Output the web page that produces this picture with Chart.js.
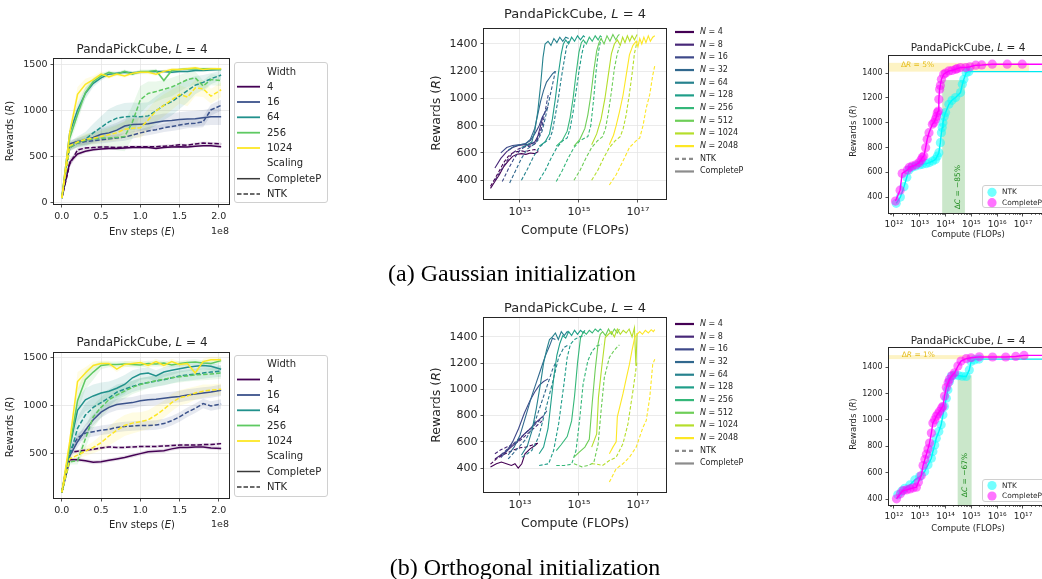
<!DOCTYPE html>
<html>
<head>
<meta charset="utf-8">
<title>PandaPickCube width scaling</title>
<script src="https://cdn.jsdelivr.net/npm/chart.js@4.4.1/dist/chart.umd.min.js"></script>
<style>
  html, body { margin: 0; padding: 0; background: #fff; overflow: hidden; }
  #fig { position: relative; width: 1042px; height: 579px; overflow: hidden; background: #fff;
         font-family: "DejaVu Sans", sans-serif; color: #262626; }
  #fig canvas { position: absolute; }
  .t { position: absolute; white-space: nowrap; line-height: 1; }
  .legbox { position: absolute; border: 1px solid #d0d0d0; border-radius: 3px; background: rgba(255,255,255,0.85); box-sizing: border-box; }
  #overlay { position: absolute; left: 0; top: 0; pointer-events: none; }
</style>
</head>
<body>
<div id="fig"></div>
<script>
// ---------- reward vs environment steps (x in units of 1e8 steps) ----------
const STEPS = [0, 0.1, 0.2, 0.3, 0.4, 0.5, 0.6, 0.7, 0.8, 0.9, 1.0, 1.1, 1.2, 1.3, 1.4, 1.5, 1.6, 1.7, 1.8, 1.9, 2.03];
const WIDTHS = [4, 16, 64, 256, 1024];
const WIDTH_COLORS = ['#440154', '#3b528b', '#21918c', '#5ec962', '#fde725'];
const ENV_TICKS = [0, 0.5, 1.0, 1.5, 2.0];

// Gaussian initialization: mean reward and spread per width
const gaussCP4    = [50, 440, 530, 560, 575, 585, 590, 590, 595, 600, 600, 600, 590, 600, 605, 610, 605, 615, 620, 620, 610];
const gaussNTK4   = [50, 420, 575, 595, 600, 605, 605, 600, 605, 610, 610, 610, 610, 615, 620, 630, 625, 640, 650, 645, 640];
const gaussCP16   = [50, 640, 665, 680, 710, 745, 760, 790, 835, 850, 855, 860, 875, 890, 895, 905, 910, 915, 925, 935, 935];
const gaussNTK16  = [50, 600, 650, 665, 675, 685, 695, 705, 715, 735, 760, 780, 795, 815, 830, 845, 860, 865, 880, 1010, 1060];
const gaussCP64   = [50, 760, 1010, 1190, 1300, 1360, 1400, 1410, 1420, 1415, 1420, 1425, 1430, 1430, 1420, 1430, 1430, 1440, 1440, 1445, 1450];
const gaussNTK64  = [50, 620, 660, 690, 760, 820, 880, 920, 935, 940, 935, 945, 1000, 1060, 1100, 1160, 1220, 1280, 1310, 1350, 1390];
const gaussCP256  = [50, 700, 960, 1200, 1320, 1380, 1420, 1400, 1430, 1400, 1430, 1430, 1440, 1330, 1440, 1450, 1460, 1455, 1460, 1460, 1450];
const gaussNTK256 = [50, 600, 650, 680, 695, 700, 705, 710, 720, 880, 1120, 1190, 1210, 1235, 1260, 1300, 1340, 1360, 1270, 1340, 1330];
const gaussCP1024 = [50, 760, 1180, 1290, 1340, 1400, 1370, 1400, 1380, 1410, 1420, 1420, 1400, 1430, 1450, 1450, 1460, 1470, 1450, 1460, 1460];
const gaussNTK1024 = [50, 620, 660, 690, 700, 720, 740, 760, 800, 810, 815, 900, 1000, 1060, 1120, 1180, 1150, 1250, 1240, 1160, 1230];

const gaussCP4sd    = [0, 40, 25, 20, 15, 15, 15, 15, 15, 15, 15, 15, 15, 15, 15, 15, 15, 15, 15, 15, 15];
const gaussNTK4sd   = [0, 40, 20, 15, 15, 15, 15, 15, 15, 15, 15, 15, 15, 15, 15, 15, 15, 15, 15, 15, 15];
const gaussCP16sd   = [0, 40, 40, 50, 60, 70, 80, 80, 80, 80, 80, 80, 80, 80, 80, 80, 85, 85, 85, 90, 90];
const gaussNTK16sd  = [0, 40, 40, 40, 40, 40, 40, 40, 40, 40, 40, 45, 45, 45, 50, 50, 50, 50, 60, 60, 60];
const gaussCP64sd   = [0, 60, 80, 60, 40, 30, 20, 20, 20, 20, 15, 15, 15, 15, 15, 15, 15, 15, 15, 15, 15];
const gaussNTK64sd  = [0, 40, 60, 80, 100, 120, 140, 140, 150, 150, 150, 150, 160, 160, 150, 140, 130, 100, 80, 60, 50];
const gaussCP256sd  = [0, 60, 80, 60, 40, 30, 20, 20, 20, 20, 20, 20, 20, 20, 20, 15, 15, 15, 15, 15, 15];
const gaussNTK256sd = [0, 40, 50, 60, 80, 100, 120, 140, 160, 180, 150, 130, 110, 100, 100, 90, 80, 70, 60, 60, 60];
const gaussCP1024sd = [0, 60, 80, 60, 40, 30, 20, 20, 20, 20, 20, 20, 20, 20, 20, 15, 15, 15, 15, 15, 15];
const gaussNTK1024sd = [0, 40, 50, 60, 60, 60, 70, 80, 90, 100, 110, 120, 120, 120, 110, 100, 100, 90, 90, 80, 80];

// Orthogonal initialization: mean reward and spread per width
const orthCP4    = [90, 430, 430, 420, 405, 410, 425, 440, 455, 475, 495, 515, 520, 525, 545, 560, 560, 565, 565, 555, 550];
const orthNTK4   = [90, 510, 520, 530, 540, 555, 565, 560, 560, 565, 570, 570, 570, 575, 580, 585, 585, 585, 590, 590, 600];
const orthCP16   = [90, 470, 620, 740, 850, 930, 980, 1010, 1020, 1030, 1050, 1060, 1065, 1075, 1085, 1095, 1110, 1120, 1130, 1140, 1160];
const orthNTK16  = [90, 520, 660, 710, 725, 740, 750, 770, 780, 785, 790, 790, 795, 810, 840, 880, 930, 970, 1020, 995, 1015];
const orthCP64   = [90, 560, 950, 1060, 1100, 1130, 1150, 1180, 1220, 1290, 1330, 1340, 1310, 1350, 1370, 1385, 1400, 1410, 1420, 1410, 1380];
const orthNTK64  = [90, 470, 760, 900, 980, 1030, 1080, 1140, 1170, 1200, 1225, 1240, 1255, 1270, 1290, 1310, 1320, 1330, 1340, 1350, 1360];
const orthCP256  = [90, 560, 1050, 1270, 1350, 1420, 1430, 1430, 1435, 1430, 1425, 1440, 1435, 1445, 1425, 1440, 1450, 1455, 1445, 1440, 1470];
const orthNTK256 = [90, 410, 420, 650, 880, 980, 1060, 1110, 1150, 1190, 1220, 1240, 1260, 1275, 1290, 1300, 1310, 1320, 1325, 1330, 1340];
const orthCP1024 = [90, 620, 1250, 1340, 1420, 1440, 1440, 1380, 1430, 1440, 1450, 1420, 1460, 1420, 1460, 1430, 1440, 1340, 1460, 1480, 1480];
const orthNTK1024 = [90, 440, 480, 520, 560, 610, 680, 740, 790, 815, 830, 850, 900, 960, 1030, 1080, 1100, 1130, 1150, 1160, 1170];

const orthCP4sd    = [0, 20, 20, 20, 20, 20, 20, 20, 20, 20, 20, 20, 20, 20, 20, 20, 20, 20, 20, 20, 20];
const orthNTK4sd   = [0, 15, 15, 15, 15, 15, 15, 15, 15, 15, 15, 15, 15, 15, 15, 15, 15, 15, 15, 15, 15];
const orthCP16sd   = [0, 40, 60, 60, 60, 60, 60, 60, 60, 60, 60, 60, 60, 60, 60, 60, 60, 60, 60, 60, 60];
const orthNTK16sd  = [0, 40, 50, 50, 50, 50, 50, 50, 50, 50, 50, 50, 50, 50, 50, 50, 50, 50, 50, 50, 50];
const orthCP64sd   = [0, 60, 120, 120, 120, 110, 100, 100, 100, 80, 60, 60, 60, 50, 50, 40, 40, 40, 40, 40, 40];
const orthNTK64sd  = [0, 40, 120, 120, 110, 100, 90, 80, 70, 60, 60, 60, 60, 60, 60, 60, 60, 60, 60, 60, 60];
const orthCP256sd  = [0, 60, 120, 100, 80, 40, 30, 30, 30, 30, 30, 30, 30, 30, 30, 30, 30, 30, 30, 30, 30];
const orthNTK256sd = [0, 30, 40, 100, 120, 110, 100, 90, 80, 70, 70, 60, 60, 60, 60, 60, 60, 60, 60, 60, 60];
const orthCP1024sd = [0, 60, 100, 60, 40, 30, 30, 30, 30, 30, 30, 30, 30, 30, 30, 30, 30, 30, 30, 30, 30];
const orthNTK1024sd = [0, 30, 40, 50, 60, 80, 100, 110, 110, 110, 100, 100, 100, 90, 90, 80, 80, 70, 70, 60, 60];

// ---------- reward vs training compute: [log10 FLOPs, reward] ----------
const N_LIST = [4, 8, 16, 32, 64, 128, 256, 512, 1024, 2048];
const N_COLORS = ['#440154', '#482878', '#3e4989', '#31688e', '#26828e', '#1f9e89', '#35b779', '#6ece58', '#b5de2b', '#fde725'];
const COMPUTE_TICKS_MID = [1e13, 1e15, 1e17];
const COMPUTE_TICKS_RIGHT = [1e12, 1e13, 1e14, 1e15, 1e16, 1e17];
const REWARD_TICKS_STEPS_A = [0, 500, 1000, 1500];
const REWARD_TICKS_STEPS_B = [500, 1000, 1500];
const REWARD_TICKS_FLOPS = [400, 600, 800, 1000, 1200, 1400];

const gfCP4 = [[12.0,340],[12.15,390],[12.3,440],[12.45,500],[12.6,540],[12.75,575],[12.9,590],[13.05,595],[13.2,590],[13.35,600],[13.5,595],[13.62,610]];
const gfNTK4 = [[12.0,355],[12.15,410],[12.3,470],[12.45,530],[12.6,575],[12.75,600],[12.9,610],[13.05,615],[13.2,610],[13.35,620],[13.5,625],[13.62,615]];
const gfCP8 = [[12.15,490],[12.35,560],[12.55,610],[12.75,640],[12.95,655],[13.15,660],[13.35,665],[13.5,680],[13.6,720],[13.7,800],[13.78,870]];
const gfNTK8 = [[12.15,400],[12.35,470],[12.55,540],[12.75,600],[12.95,630],[13.15,645],[13.35,650],[13.5,665],[13.6,700],[13.7,760],[13.78,820]];
const gfCP16 = [[12.35,600],[12.55,640],[12.75,655],[12.95,660],[13.15,665],[13.35,690],[13.5,740],[13.65,800],[13.75,860],[13.85,900],[13.95,940]];
const gfNTK16 = [[12.4,390],[12.6,480],[12.8,560],[13.0,620],[13.2,650],[13.4,665],[13.55,690],[13.7,760],[13.8,850],[13.9,960],[13.97,1040]];
const gfCP32 = [[12.6,620],[12.8,650],[13.0,660],[13.2,670],[13.35,700],[13.5,780],[13.6,880],[13.7,980],[13.8,1060],[13.9,1120],[14.0,1150],[14.1,1180],[14.2,1200]];
const gfNTK32 = [[12.65,380],[12.85,470],[13.05,560],[13.25,630],[13.45,660],[13.6,690],[13.75,760],[13.85,850],[13.95,950],[14.05,1050],[14.15,1150],[14.2,1200]];
const gfCP64 = [[13.05,640],[13.25,660],[13.4,680],[13.5,760],[13.6,900],[13.7,1100],[13.78,1300],[13.85,1400],[13.95,1420],[14.05,1390],[14.15,1440],[14.25,1410],[14.35,1450],[14.45,1420],[14.55,1450],[14.65,1440]];
const gfNTK64 = [[13.05,400],[13.25,480],[13.45,570],[13.65,640],[13.85,680],[14.0,700],[14.1,760],[14.2,880],[14.3,1000],[14.4,1150],[14.5,1280],[14.58,1380],[14.65,1420]];
const gfCP128 = [[13.65,650],[13.85,680],[14.0,740],[14.1,850],[14.2,1000],[14.3,1180],[14.4,1330],[14.47,1400],[14.55,1430],[14.65,1400],[14.75,1450],[14.85,1420],[14.95,1460],[15.05,1430],[15.15,1460],[15.2,1450]];
const gfNTK128 = [[13.65,400],[13.85,470],[14.05,560],[14.25,640],[14.45,690],[14.6,710],[14.7,780],[14.8,900],[14.9,1050],[15.0,1200],[15.1,1330],[15.2,1420]];
const gfCP256 = [[14.23,650],[14.43,690],[14.6,760],[14.7,860],[14.8,1000],[14.9,1180],[15.0,1340],[15.08,1410],[15.15,1430],[15.25,1400],[15.35,1450],[15.45,1420],[15.55,1460],[15.65,1430],[15.72,1460],[15.77,1450]];
const gfNTK256 = [[14.23,390],[14.43,470],[14.63,560],[14.83,640],[15.03,690],[15.2,710],[15.3,720],[15.4,800],[15.5,1000],[15.58,1200],[15.65,1330],[15.72,1410],[15.77,1440]];
const gfCP512 = [[14.83,650],[15.03,700],[15.2,780],[15.3,880],[15.4,1020],[15.5,1200],[15.6,1350],[15.68,1410],[15.75,1440],[15.85,1400],[15.95,1460],[16.05,1420],[16.15,1470],[16.25,1430],[16.32,1460],[16.37,1470]];
const gfNTK512 = [[14.83,400],[15.03,470],[15.23,560],[15.43,640],[15.63,690],[15.8,720],[15.9,780],[16.0,900],[16.1,1050],[16.2,1220],[16.3,1330],[16.37,1380]];
const gfCP1024 = [[15.43,660],[15.6,740],[15.75,850],[15.88,1000],[16.0,1180],[16.1,1330],[16.2,1400],[16.3,1430],[16.4,1390],[16.48,1450],[16.56,1410],[16.64,1460],[16.72,1420],[16.8,1460],[16.88,1430],[16.97,1470]];
const gfNTK1024 = [[15.43,400],[15.63,470],[15.83,560],[16.03,640],[16.23,690],[16.4,720],[16.5,780],[16.6,880],[16.7,1020],[16.8,1180],[16.88,1330],[16.97,1420]];
const gfCP2048 = [[16.03,660],[16.17,730],[16.26,800],[16.37,900],[16.49,1020],[16.6,1170],[16.71,1320],[16.83,1390],[16.94,1420],[17.0,1380],[17.06,1440],[17.13,1400],[17.2,1450],[17.27,1410],[17.35,1460],[17.42,1420],[17.5,1450],[17.57,1460]];
const gfNTK2048 = [[16.03,365],[16.26,440],[16.49,540],[16.71,640],[16.94,690],[17.06,710],[17.17,800],[17.28,930],[17.4,1030],[17.5,1170],[17.57,1240]];

const ofCP4 = [[12.0,408],[12.2,433],[12.37,446],[12.54,433],[12.71,420],[12.83,433],[12.94,400],[13.06,433],[13.17,509],[13.34,547],[13.51,572],[13.6,590]];
const ofNTK4 = [[12.0,430],[12.2,470],[12.4,500],[12.6,520],[12.8,540],[13.0,555],[13.2,560],[13.4,575],[13.6,590]];
const ofCP8 = [[12.15,470],[12.35,500],[12.55,530],[12.75,570],[12.95,610],[13.15,660],[13.35,700],[13.5,740],[13.65,770],[13.75,790]];
const ofNTK8 = [[12.15,510],[12.35,540],[12.55,560],[12.75,580],[12.95,600],[13.15,640],[13.35,680],[13.5,710],[13.65,740],[13.75,760]];
const ofCP16 = [[12.35,480],[12.55,530],[12.75,600],[12.95,700],[13.15,820],[13.35,920],[13.5,980],[13.65,1030],[13.8,1060],[13.95,1080]];
const ofNTK16 = [[12.35,500],[12.55,540],[12.75,580],[12.95,620],[13.15,660],[13.35,700],[13.5,730],[13.65,760],[13.8,800],[13.95,850]];
const ofCP32 = [[12.6,500],[12.8,560],[13.0,650],[13.2,800],[13.4,950],[13.55,1050],[13.7,1150],[13.85,1250],[14.0,1330],[14.1,1390],[14.2,1380]];
const ofNTK32 = [[12.6,470],[12.8,520],[13.0,570],[13.2,620],[13.4,700],[13.55,780],[13.7,880],[13.85,980],[14.0,1080],[14.1,1150],[14.2,1200]];
const ofCP64 = [[13.05,500],[13.25,570],[13.4,680],[13.55,850],[13.7,1050],[13.8,1200],[13.9,1300],[14.0,1380],[14.1,1400],[14.2,1430],[14.3,1380],[14.4,1440],[14.5,1410],[14.6,1440],[14.65,1430]];
const ofNTK64 = [[13.06,483],[13.25,510],[13.4,534],[13.63,635],[13.86,838],[14.09,1040],[14.31,1243],[14.49,1319],[14.65,1340]];
const ofCP128 = [[13.65,509],[13.8,560],[13.95,700],[14.05,900],[14.15,1100],[14.25,1260],[14.35,1350],[14.45,1410],[14.55,1390],[14.65,1440],[14.75,1410],[14.85,1450],[14.95,1420],[15.05,1450],[15.15,1430],[15.2,1450]];
const ofNTK128 = [[13.65,420],[13.97,433],[14.14,534],[14.31,737],[14.49,1040],[14.6,1243],[14.71,1344],[14.85,1380],[15.0,1400],[15.2,1410]];
const ofCP256 = [[14.23,534],[14.4,580],[14.6,640],[14.75,760],[14.85,950],[14.95,1200],[15.05,1390],[15.15,1440],[15.25,1420],[15.35,1450],[15.45,1430],[15.55,1460],[15.65,1440],[15.72,1460],[15.77,1450]];
const ofNTK256 = [[14.23,420],[14.5,420],[14.75,430],[14.9,534],[15.03,787],[15.14,1040],[15.3,1218],[15.45,1294],[15.6,1330],[15.77,1345]];
const ofCP512 = [[14.83,483],[15.0,520],[15.2,560],[15.35,620],[15.45,900],[15.55,1150],[15.65,1350],[15.72,1420],[15.8,1440],[15.9,1410],[16.0,1460],[16.1,1420],[16.2,1460],[16.3,1430],[16.37,1460]];
const ofNTK512 = [[14.83,433],[15.1,410],[15.3,420],[15.5,440],[15.65,585],[15.75,838],[15.86,1091],[16.03,1243],[16.2,1300],[16.37,1340]];
const ofCP1024 = [[15.43,560],[15.6,660],[15.66,939],[15.77,1167],[15.89,1395],[16.0,1420],[16.1,1440],[16.2,1400],[16.3,1460],[16.4,1420],[16.5,1450],[16.6,1430],[16.7,1460],[16.8,1400],[16.88,1470],[16.93,1180],[16.97,1430]];
const ofNTK1024 = [[15.43,433],[15.6,430],[15.8,420],[16.03,458],[16.26,483],[16.49,585],[16.66,737],[16.83,990],[16.97,1218]];
const ofCP2048 = [[16.03,510],[16.15,560],[16.26,600],[16.3,790],[16.49,965],[16.6,1080],[16.71,1190],[16.8,1300],[16.89,1395],[16.97,1420],[17.06,1440],[17.15,1420],[17.25,1450],[17.35,1430],[17.45,1455],[17.52,1440],[17.57,1455]];
const ofNTK2048 = [[16.03,294],[16.26,395],[16.49,433],[16.71,483],[16.94,560],[17.17,711],[17.28,762],[17.4,939],[17.5,1192],[17.57,1230]];

// ---------- compute-optimal frontier: [log10 FLOPs, reward] ----------
const gaussFrontNTK = [[12.09,350],[12.25,400],[12.39,484],[12.5,560],[12.58,618],[12.7,640],[12.84,650],[13.0,660],[13.1,664],[13.25,670],[13.36,677],[13.5,690],[13.61,704],[13.68,730],[13.74,758],[13.8,839],[13.84,919],[13.87,960],[13.9,1000],[13.95,1050],[14.0,1081],[14.13,1148],[14.25,1180],[14.39,1202],[14.58,1242],[14.65,1309],[14.71,1349],[14.8,1403],[14.9,1411]];
const gaussFrontCP = [[12.06,368],[12.24,456],[12.32,591],[12.52,618],[12.6,640],[12.71,650],[12.85,660],[12.97,677],[13.05,700],[13.1,720],[13.16,731],[13.23,798],[13.29,866],[13.36,919],[13.49,987],[13.55,1000],[13.61,1027],[13.65,1050],[13.68,1080],[13.72,1094],[13.74,1188],[13.77,1269],[13.8,1300],[13.84,1349],[13.93,1390],[14.0,1400],[14.13,1417],[14.25,1420],[14.39,1430],[14.45,1435],[14.58,1444],[14.78,1444],[14.95,1450],[15.17,1463],[15.4,1465],[15.81,1471],[16.39,1471],[16.97,1471]];
const orthFrontNTK = [[12.15,432],[12.3,460],[12.42,482],[12.62,507],[12.81,545],[13.0,570],[13.19,608],[13.32,659],[13.45,709],[13.51,760],[13.58,810],[13.64,861],[13.74,911],[13.83,962],[13.9,1038],[13.96,1101],[14.03,1164],[14.09,1227],[14.15,1290],[14.22,1328],[14.35,1340],[14.5,1335],[14.65,1330],[14.8,1328],[14.92,1378],[14.99,1442],[15.12,1454],[15.3,1460]];
const orthFrontCP = [[12.1,402],[12.25,440],[12.36,465],[12.5,470],[12.62,477],[12.75,485],[12.87,490],[12.95,530],[13.06,578],[13.13,654],[13.2,700],[13.26,740],[13.32,780],[13.38,824],[13.45,900],[13.51,976],[13.58,1000],[13.64,1027],[13.7,1045],[13.77,1065],[13.85,1090],[13.9,1103],[13.96,1180],[14.03,1244],[14.1,1280],[14.15,1306],[14.25,1335],[14.35,1356],[14.48,1407],[14.6,1445],[14.8,1463],[14.99,1470],[15.31,1477],[15.82,1476],[16.33,1476],[16.72,1480],[17.04,1488]];

// reward gap band [low, high] and its right end (log10 FLOPs); compute gap band [from, to] and its top
const gaussRewardGap = [1411, 1482], gaussRewardGapEnd = 17.23, gaussComputeGap = [13.87, 14.75], gaussComputeGapTop = 1343;
const orthRewardGap = [1460, 1490], orthRewardGapEnd = 17.2, orthComputeGap = [14.47, 15.01], orthComputeGapTop = 1337;

// ---------- drawing ----------
const FONT = '"DejaVu Sans", sans-serif';
const INK = '#262626';
const GRID = '#e6e6e6';
const fig = document.getElementById('fig');

function hexA(hex, a) {
  const n = parseInt(hex.slice(1), 16);
  return `rgba(${n >> 16},${(n >> 8) & 255},${n & 255},${a})`;
}
const SUP = { '0': '⁰', '1': '¹', '2': '²', '3': '³', '4': '⁴', '5': '⁵', '6': '⁶', '7': '⁷', '8': '⁸', '9': '⁹' };
const pow10Label = v => '10' + String(Math.round(Math.log10(v))).split('').map(d => SUP[d]).join('');

function makeCanvas(r, p) {
  const c = document.createElement('canvas');
  const w = r.r - r.l + p.l + p.r, h = r.b - r.t + p.t + p.b;
  c.width = w; c.height = h;
  c.style.left = (r.l - p.l) + 'px'; c.style.top = (r.t - p.t) + 'px';
  c.style.width = w + 'px'; c.style.height = h + 'px';
  fig.appendChild(c);
  return c;
}

function axis(o) {
  return {
    type: o.type, min: o.min, max: o.max, bounds: 'data',
    afterBuildTicks: s => { s.ticks = o.ticks.map(v => ({ value: v })); },
    afterFit: s => { if (o.w !== undefined) s.width = o.w; if (o.h !== undefined) s.height = o.h; },
    ticks: { callback: o.fmt, font: { family: FONT, size: o.size }, color: INK, padding: 3,
             maxRotation: 0, minRotation: 0, autoSkip: false, major: { enabled: false } },
    grid: { display: true, color: o.grid || 'rgba(0,0,0,0)', lineWidth: 0.8, drawTicks: true,
            tickLength: 3.5, tickColor: INK, tickWidth: 0.8 },
    border: { display: false }
  };
}

function baseOptions(xAx, yAx, pad, extra) {
  return {
    responsive: false, animation: false, events: [],
    layout: { padding: { left: 0, top: pad.t, right: pad.r, bottom: 0 } },
    scales: { x: xAx, y: yAx },
    plugins: Object.assign({ legend: { display: false }, tooltip: { enabled: false }, title: { display: false } }, extra || {}),
    elements: { line: { tension: 0 }, point: { radius: 0 } }
  };
}

// frame around the plotting area
const spinePlugin = {
  id: 'spines',
  afterDatasetsDraw(chart) {
    const a = chart.chartArea, ctx = chart.ctx;
    ctx.save();
    ctx.strokeStyle = INK; ctx.lineWidth = 1;
    ctx.strokeRect(a.left - 0.5, a.top - 0.5, a.right - a.left + 1, a.bottom - a.top + 1);
    ctx.restore();
  }
};

// small ticks between decades on a log x axis
const minorTickPlugin = {
  id: 'minorTicks',
  afterDraw(chart) {
    const s = chart.scales.x, ctx = chart.ctx, b = chart.chartArea.bottom;
    ctx.save(); ctx.strokeStyle = INK; ctx.lineWidth = 0.6;
    for (let e = 11; e <= 17; e++) {
      for (let m = 2; m <= 9; m++) {
        const v = m * Math.pow(10, e);
        if (v < s.min || v > s.max) continue;
        const px = Math.round(s.getPixelForValue(v)) + 0.5;
        ctx.beginPath(); ctx.moveTo(px, b); ctx.lineTo(px, b + 2); ctx.stroke();
      }
    }
    ctx.restore();
  }
};

function richText(ctx, segs, size, cx, cy, color, rot, align) {
  ctx.save(); ctx.translate(cx, cy); if (rot) ctx.rotate(-Math.PI / 2);
  ctx.fillStyle = color; ctx.textBaseline = 'middle'; ctx.textAlign = 'left';
  const fontFor = s => (s.it ? 'italic ' : '') + size + 'px ' + FONT;
  let total = 0;
  segs.forEach(s => { ctx.font = fontFor(s); total += ctx.measureText(s.t).width; });
  let xx = align === 'left' ? 0 : -total / 2;
  segs.forEach(s => { ctx.font = fontFor(s); ctx.fillText(s.t, xx, 0); xx += ctx.measureText(s.t).width; });
  ctx.restore();
}

// shaded reward-gap and compute-gap bands with their labels
const gapPlugin = {
  id: 'gaps',
  beforeDatasetsDraw(chart, args, o) {
    const { ctx, chartArea: a } = chart, x = chart.scales.x, y = chart.scales.y;
    ctx.save();
    const xr = x.getPixelForValue(Math.pow(10, o.rEnd));
    const yHi = y.getPixelForValue(o.rBand[1]), yLo = y.getPixelForValue(o.rBand[0]);
    ctx.fillStyle = 'rgba(250,215,60,0.3)';
    ctx.fillRect(a.left, yHi, xr - a.left, yLo - yHi);
    const x0 = x.getPixelForValue(Math.pow(10, o.cBand[0])), x1 = x.getPixelForValue(Math.pow(10, o.cBand[1]));
    const yc = y.getPixelForValue(o.cTop);
    ctx.fillStyle = 'rgba(44,160,44,0.25)';
    ctx.fillRect(x0, yc, x1 - x0, a.bottom - yc);
    ctx.restore();
    richText(ctx, [{ t: 'Δ' }, { t: 'R', it: true }, { t: ' = ' + o.rLabel }], 7.5,
      x.getPixelForValue(Math.pow(10, o.rText[0])), y.getPixelForValue(o.rText[1]), 'rgba(228,186,20,0.95)', false, 'left');
    richText(ctx, [{ t: 'Δ' }, { t: 'C', it: true }, { t: ' = ' + o.cLabel }], 7.5,
      x.getPixelForValue(Math.pow(10, o.cText[0])), y.getPixelForValue(o.cText[1]), '#1e8c1e', true, 'center');
  }
};

function stepsPanel(rect, yRange, yTicks, cp, ntk, cpSd, ntkSd) {
  const pad = { l: 45, t: 12, r: 12, b: 24 };
  const ds = [];
  WIDTHS.forEach((w, i) => {
    const col = WIDTH_COLORS[i];
    [[cp[i], cpSd[i], []], [ntk[i], ntkSd[i], [4.5, 2]]].forEach(([vals, sd, dash]) => {
      ds.push({ data: STEPS.map((x, k) => ({ x, y: vals[k] - sd[k] })), borderColor: 'rgba(0,0,0,0)', borderWidth: 0, pointRadius: 0, fill: false, order: 50 });
      ds.push({ data: STEPS.map((x, k) => ({ x, y: vals[k] + sd[k] })), borderColor: 'rgba(0,0,0,0)', borderWidth: 0, pointRadius: 0, fill: '-1', backgroundColor: hexA(col, 0.13), order: 50 });
      ds.push({ data: STEPS.map((x, k) => ({ x, y: vals[k] })), borderColor: col, borderWidth: 1.5, borderDash: dash, pointRadius: 0, fill: false, order: 10 - i });
    });
  });
  new Chart(makeCanvas(rect, pad), {
    type: 'line', data: { datasets: ds },
    options: baseOptions(
      axis({ type: 'linear', min: -0.1, max: 2.13, ticks: ENV_TICKS, fmt: v => v.toFixed(1), size: 9.5, grid: GRID, h: pad.b }),
      axis({ type: 'linear', min: yRange[0], max: yRange[1], ticks: yTicks, fmt: v => String(v), size: 9.5, grid: GRID, w: pad.l }),
      pad),
    plugins: [spinePlugin]
  });
}

const toXY = arr => arr.map(([lc, r]) => ({ x: Math.pow(10, lc), y: r }));

function flopsPanel(rect, yRange, cp, ntk) {
  const pad = { l: 50, t: 12, r: 8, b: 26 };
  const ds = [];
  N_LIST.forEach((n, i) => {
    ds.push({ data: toXY(ntk[i]), borderColor: N_COLORS[i], borderWidth: 1.1, borderDash: [3.5, 2], pointRadius: 0, fill: false, order: 40 - 2 * i });
    ds.push({ data: toXY(cp[i]), borderColor: N_COLORS[i], borderWidth: 1.1, pointRadius: 0, fill: false, order: 39 - 2 * i });
  });
  new Chart(makeCanvas(rect, pad), {
    type: 'line', data: { datasets: ds },
    options: baseOptions(
      axis({ type: 'logarithmic', min: Math.pow(10, 11.78), max: Math.pow(10, 17.95), ticks: COMPUTE_TICKS_MID, fmt: pow10Label, size: 11, grid: GRID, h: pad.b }),
      axis({ type: 'linear', min: yRange[0], max: yRange[1], ticks: REWARD_TICKS_FLOPS, fmt: v => String(v), size: 11, grid: GRID, w: pad.l }),
      pad),
    plugins: [spinePlugin]
  });
}

function frontierPanel(rect, yRange, ntkPts, cpPts, gaps) {
  const pad = { l: 40, t: 12, r: 10, b: 24 };
  const xMin = Math.pow(10, 11.81), xMax = Math.pow(10, 17.93);
  const mk = (pts, line, fill, ord) => {
    const data = toXY(pts);
    data.push({ x: xMax, y: pts[pts.length - 1][1] });
    const last = data.length - 1;
    return { data, showLine: true, borderColor: line, borderWidth: 1.4, backgroundColor: fill,
             pointBackgroundColor: fill, pointBorderWidth: 0, pointBorderColor: 'rgba(0,0,0,0)',
             pointRadius: c => (c.dataIndex === last ? 0 : 4.6), order: ord };
  };
  new Chart(makeCanvas(rect, pad), {
    type: 'scatter',
    data: { datasets: [mk(ntkPts, '#00e8f0', 'rgba(0,255,255,0.5)', 2), mk(cpPts, '#ff00ff', 'rgba(255,0,255,0.5)', 1)] },
    options: baseOptions(
      axis({ type: 'logarithmic', min: xMin, max: xMax, ticks: COMPUTE_TICKS_RIGHT, fmt: pow10Label, size: 9, h: pad.b }),
      axis({ type: 'linear', min: yRange[0], max: yRange[1], ticks: REWARD_TICKS_FLOPS, fmt: v => String(v), size: 8, w: pad.l }),
      pad, { gaps }),
    plugins: [gapPlugin, spinePlugin, minorTickPlugin]
  });
}

// ---------- panels ----------
stepsPanel({ l: 54, t: 59, r: 229, b: 204 }, [-15, 1565], REWARD_TICKS_STEPS_A,
  [gaussCP4, gaussCP16, gaussCP64, gaussCP256, gaussCP1024],
  [gaussNTK4, gaussNTK16, gaussNTK64, gaussNTK256, gaussNTK1024],
  [gaussCP4sd, gaussCP16sd, gaussCP64sd, gaussCP256sd, gaussCP1024sd],
  [gaussNTK4sd, gaussNTK16sd, gaussNTK64sd, gaussNTK256sd, gaussNTK1024sd]);
stepsPanel({ l: 54, t: 353, r: 229, b: 498 }, [30, 1550], REWARD_TICKS_STEPS_B,
  [orthCP4, orthCP16, orthCP64, orthCP256, orthCP1024],
  [orthNTK4, orthNTK16, orthNTK64, orthNTK256, orthNTK1024],
  [orthCP4sd, orthCP16sd, orthCP64sd, orthCP256sd, orthCP1024sd],
  [orthNTK4sd, orthNTK16sd, orthNTK64sd, orthNTK256sd, orthNTK1024sd]);

flopsPanel({ l: 484, t: 29, r: 666, b: 199 }, [262, 1510],
  [gfCP4, gfCP8, gfCP16, gfCP32, gfCP64, gfCP128, gfCP256, gfCP512, gfCP1024, gfCP2048],
  [gfNTK4, gfNTK8, gfNTK16, gfNTK32, gfNTK64, gfNTK128, gfNTK256, gfNTK512, gfNTK1024, gfNTK2048]);
flopsPanel({ l: 484, t: 318, r: 666, b: 492 }, [218, 1544],
  [ofCP4, ofCP8, ofCP16, ofCP32, ofCP64, ofCP128, ofCP256, ofCP512, ofCP1024, ofCP2048],
  [ofNTK4, ofNTK8, ofNTK16, ofNTK32, ofNTK64, ofNTK128, ofNTK256, ofNTK512, ofNTK1024, ofNTK2048]);

frontierPanel({ l: 889, t: 56, r: 1047, b: 213 }, [272, 1537], gaussFrontNTK, gaussFrontCP,
  { rBand: gaussRewardGap, rEnd: gaussRewardGapEnd, cBand: gaussComputeGap, cTop: gaussComputeGapTop,
    rLabel: '5%', cLabel: '−85%', rText: [12.27, 1462], cText: [14.48, 480] });
frontierPanel({ l: 889, t: 348, r: 1047, b: 505 }, [355, 1544], orthFrontNTK, orthFrontCP,
  { rBand: orthRewardGap, rEnd: orthRewardGapEnd, cBand: orthComputeGap, cTop: orthComputeGapTop,
    rLabel: '1%', cLabel: '−67%', rText: [12.3, 1492], cText: [14.77, 582] });

// ---------- legends and labels ----------
function box(l, t, w, h) {
  const d = document.createElement('div');
  d.className = 'legbox';
  Object.assign(d.style, { left: l + 'px', top: t + 'px', width: w + 'px', height: h + 'px' });
  fig.appendChild(d);
}
box(234, 62, 94, 141);
box(234, 355, 94, 142);
box(982, 185, 80, 23);
box(982, 479, 80, 23);

const svgNS = 'http://www.w3.org/2000/svg';
const svg = document.createElementNS(svgNS, 'svg');
svg.setAttribute('width', '1042'); svg.setAttribute('height', '579'); svg.id = 'overlay';
fig.appendChild(svg);
function sline(x0, x1, y, color, w, dash) {
  const l = document.createElementNS(svgNS, 'line');
  l.setAttribute('x1', x0); l.setAttribute('x2', x1); l.setAttribute('y1', y); l.setAttribute('y2', y);
  l.setAttribute('stroke', color); l.setAttribute('stroke-width', w);
  if (dash) l.setAttribute('stroke-dasharray', dash);
  svg.appendChild(l);
}
function scircle(cx, cy, r, fill) {
  const c = document.createElementNS(svgNS, 'circle');
  c.setAttribute('cx', cx); c.setAttribute('cy', cy); c.setAttribute('r', r); c.setAttribute('fill', fill);
  svg.appendChild(c);
}
function text(x, y, html, size, o = {}) {
  const d = document.createElement('div');
  d.className = 't';
  d.style.left = x + 'px'; d.style.top = y + 'px'; d.style.fontSize = size + 'px';
  if (o.family) d.style.fontFamily = o.family;
  if (o.color) d.style.color = o.color;
  let tf = o.align === 'left' ? 'translate(0,-50%)' : o.align === 'right' ? 'translate(-100%,-50%)' : 'translate(-50%,-50%)';
  if (o.rot) tf += ' rotate(-90deg)';
  d.style.transform = tf;
  d.innerHTML = html;
  fig.appendChild(d);
}

function stepsLegend(ys) {
  text(267, ys[0], 'Width', 10, { align: 'left' });
  WIDTHS.forEach((w, i) => {
    sline(237, 260, ys[i + 1], WIDTH_COLORS[i], 1.8);
    text(267, ys[i + 1], String(w), 10, { align: 'left' });
  });
  text(267, ys[6], 'Scaling', 10, { align: 'left' });
  sline(237, 260, ys[7], '#3a3a3a', 1.5);
  text(267, ys[7], 'CompleteP', 10, { align: 'left' });
  sline(237, 260, ys[8], '#3a3a3a', 1.5, '4.5 2');
  text(267, ys[8], 'NTK', 10, { align: 'left' });
}
stepsLegend([71.7, 86.7, 102, 117.3, 132.7, 148, 163.3, 178.7, 194]);
stepsLegend([364, 379.5, 395, 410.3, 425.5, 441, 456.3, 471.5, 487]);

function flopsLegend(y0) {
  const dy = 12.68;
  N_LIST.forEach((n, i) => {
    sline(675, 694, y0 + dy * i, N_COLORS[i], 2.2);
    text(700, y0 + dy * i, `<i>N</i> = ${n}`, 8, { align: 'left' });
  });
  sline(675, 694, y0 + dy * 10, '#8c8c8c', 2.2, '4 3');
  text(700, y0 + dy * 10, 'NTK', 8, { align: 'left' });
  sline(675, 694, y0 + dy * 11, '#8c8c8c', 2.2);
  text(700, y0 + dy * 11, 'CompleteP', 8, { align: 'left' });
}
flopsLegend(32);
flopsLegend(324);

function frontierLegend(yN, yC) {
  scircle(992, yN, 4.6, 'rgba(0,255,255,0.55)');
  text(1002, yN, 'NTK', 7.4, { align: 'left' });
  scircle(992, yC, 4.6, 'rgba(255,0,255,0.55)');
  text(1002, yC, 'CompleteP', 7.4, { align: 'left' });
}
frontierLegend(192.3, 202.7);
frontierLegend(485.5, 496);

const TITLE = 'PandaPickCube, <i>L</i> = 4';
const YLAB = 'Rewards (<i>R</i>)';
// left column
text(142, 49, TITLE, 12); text(142, 342, TITLE, 12);
text(10, 131, YLAB, 10, { rot: true }); text(10, 427, YLAB, 10, { rot: true });
text(142, 232, 'Env steps (<i>E</i>)', 10); text(142, 525, 'Env steps (<i>E</i>)', 10);
text(229, 231, '1e8', 9.5, { align: 'right' }); text(229, 524, '1e8', 9.5, { align: 'right' });
// middle column
text(575, 13, TITLE, 13); text(575, 307, TITLE, 13);
text(436, 113, YLAB, 12.5, { rot: true }); text(436, 405, YLAB, 12.5, { rot: true });
text(575, 230, 'Compute (FLOPs)', 12.5); text(575, 523, 'Compute (FLOPs)', 12.5);
// right column
text(968, 47, TITLE, 10.5); text(968, 340, TITLE, 10.5);
text(853, 131, YLAB, 8.5, { rot: true }); text(853, 424, YLAB, 8.5, { rot: true });
text(968, 234, 'Compute (FLOPs)', 8.5); text(968, 528, 'Compute (FLOPs)', 8.5);
// captions
const SERIF = '"Liberation Serif", "Times New Roman", serif';
text(512, 273, '(a) Gaussian initialization', 24, { family: SERIF, color: '#000' });
text(525, 567, '(b) Orthogonal initialization', 24, { family: SERIF, color: '#000' });
</script>
</body>
</html>
